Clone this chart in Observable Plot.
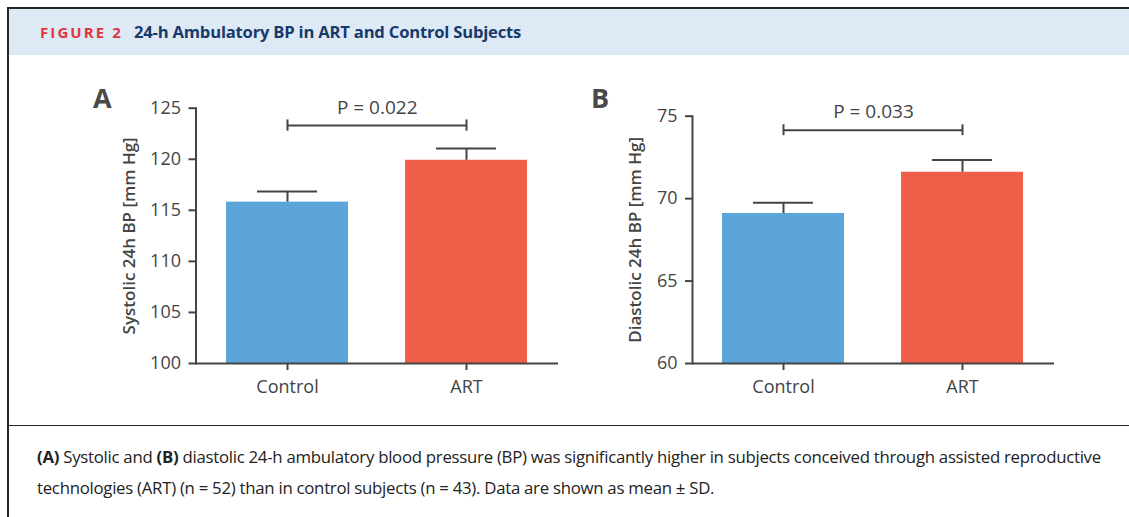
<!DOCTYPE html>
<html><head><meta charset="utf-8">
<script src="https://cdn.jsdelivr.net/npm/d3@7"></script>
<script src="https://cdn.jsdelivr.net/npm/@observablehq/plot@0.6"></script>
<style>
html,body{margin:0;padding:0;background:#fff;}
#fig{position:relative;width:1129px;height:517px;overflow:hidden;font-family:"Open Sans",sans-serif;}
.bt{position:absolute;left:7px;top:7px;right:0;height:2px;background:#262626;}
.bl{position:absolute;left:7px;top:7px;width:1.6px;bottom:0;background:#262626;}
.hdr{position:absolute;left:9px;top:9px;right:0;height:46px;background:#dde9f5;}
.fignum{position:absolute;left:40px;top:22px;font-weight:700;font-size:15px;letter-spacing:2.1px;color:#e2353b;}
.figtitle{position:absolute;left:134px;top:20px;font-weight:700;font-size:16.6px;color:#173a6a;letter-spacing:-0.2px;}
.divline{position:absolute;left:9px;right:0;top:424.5px;height:1.6px;background:#262626;}
.panel{position:absolute;top:60px;}
.plabel{position:absolute;font-weight:700;font-size:27px;color:#4a4a4a;line-height:1;}
.cap{position:absolute;left:37px;font-size:16.8px;line-height:20px;color:#222;letter-spacing:-0.27px;white-space:nowrap;}
</style></head>
<body>
<div id="fig">
  <div class="hdr"></div>
  <div class="bt"></div>
  <div class="bl"></div>
  <div class="fignum">FIGURE 2</div>
  <div class="figtitle">24-h Ambulatory BP in ART and Control Subjects</div>
  <div class="panel" id="pa" style="left:0px"></div>
  <div class="panel" id="pb" style="left:580px"></div>
  <div class="plabel" style="left:93px;top:84px">A</div>
  <div class="plabel" style="left:591px;top:84px">B</div>
  <div class="divline"></div>
  <div class="cap" style="top:447px"><b>(A)</b><span> Systolic and </span><b>(B)</b><span> diastolic 24-h ambulatory blood pressure (BP) was significantly higher in subjects conceived through assisted reproductive</span></div>
  <div class="cap" style="top:478px">technologies (ART) (n = 52) than in control subjects (n = 43). Data are shown as mean ± SD.</div>
</div>
<script>
const categories = ["Control", "ART"];
const systolicMean = [115.8, 119.9];
const systolicSD = [1.05, 1.15];
const diastolicMean = [69.1, 71.6];
const diastolicSD = [0.65, 0.75];
const systolicTicks = [100, 105, 110, 115, 120, 125];
const diastolicTicks = [60, 65, 70, 75];
const systolicDomain = [100, 125];
const diastolicDomain = [60, 75];
const pValues = ["P = 0.022", "P = 0.033"];
const bracketLevels = [123.3, 74.15];
const yLabels = ["Systolic 24h BP [mm Hg]", "Diastolic 24h BP [mm Hg]"];
const barColors = ["#5ba5d8", "#ef5e47"];

const ink = "#444";

function panel(o) {
  const data = categories.map((c, i) => ({cat: c, mean: o.means[i], top: o.means[i] + o.sds[i]}));
  const h = o.tickHalf;
  return Plot.plot({
    width: o.width, height: 360,
    marginLeft: o.ml, marginRight: o.mr, marginTop: o.mt, marginBottom: 57,
    style: {fontFamily: "Open Sans", fontSize: "18px", color: ink, background: "transparent", overflow: "visible"},
    x: {domain: categories, paddingInner: 0.3167, paddingOuter: 0.1667, label: null},
    y: {domain: o.domain, label: null},
    color: {domain: categories, range: barColors},
    marks: [
      Plot.barY(data, {x: "cat", y1: o.domain[0], y2: "mean", fill: "cat"}),
      Plot.ruleX(data, {x: "cat", y1: "mean", y2: "top", stroke: ink, strokeWidth: 2}),
      Plot.tickY(data, {x: "cat", y: "top", stroke: ink, strokeWidth: 2, insetLeft: 31, insetRight: 31}),
      Plot.link([0], {x1: () => categories[0], x2: () => categories[1], y1: () => o.bracket, y2: () => o.bracket, stroke: ink, strokeWidth: 2}),
      Plot.ruleX(categories, {x: d => d, y1: o.bracket - h, y2: o.bracket + h, stroke: ink, strokeWidth: 2}),
      Plot.text([o.p], {text: d => d, y: () => o.bracket, dy: -18, fill: ink, fontSize: 19}),
      Plot.text([o.label], {text: d => d, frameAnchor: "left", textAnchor: "middle", lineAnchor: "middle", rotate: -90, dx: o.labelDx, fill: ink, fontSize: 17, fontWeight: 600}),
      Plot.axisY({ticks: o.ticks, tickSize: 7, tickPadding: 8, strokeWidth: 2, label: null}),
      Plot.axisX({tickSize: 7, tickPadding: 10, strokeWidth: 2, label: null}),
      Plot.ruleY([o.domain[0]], {stroke: ink, strokeWidth: 2}),
      Plot.frame({anchor: "left", stroke: ink, strokeWidth: 2})
    ]
  });
}

document.getElementById("pa").append(panel({
  means: systolicMean, sds: systolicSD, domain: systolicDomain, ticks: systolicTicks,
  p: pValues[0], bracket: bracketLevels[0], tickHalf: 0.55, label: yLabels[0],
  width: 580, ml: 195.5, mr: 22, mt: 47.7, labelDx: -66
}));
document.getElementById("pb").append(panel({
  means: diastolicMean, sds: diastolicSD, domain: diastolicDomain, ticks: diastolicTicks,
  p: pValues[1], bracket: bracketLevels[1], tickHalf: 0.33, label: yLabels[1],
  width: 549, ml: 112, mr: 75, mt: 55.7, labelDx: -57
}));
</script>
</body></html>
